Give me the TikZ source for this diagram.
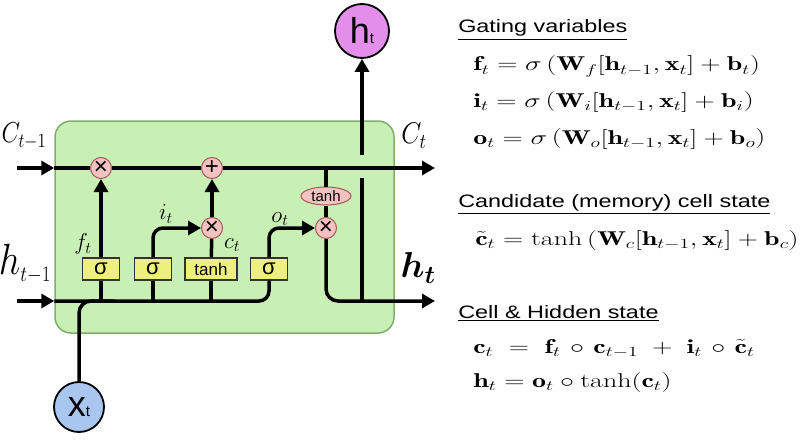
\documentclass[tikz,border=0pt]{standalone}
\usepackage{fix-cm}
\usepackage{fontspec,amsmath,bm}
\usetikzlibrary{arrows.meta,positioning,shapes.geometric}
\newfontfamily\labelfont{Liberation Sans}
\definecolor{cellgreen}{HTML}{C9F0B4}
\definecolor{celledge}{HTML}{7FAE6E}
\definecolor{gateyellow}{HTML}{EEF07E}
\definecolor{oppink}{HTML}{F6C1C1}
\definecolor{opedge}{HTML}{A05A5A}
\definecolor{outviolet}{HTML}{E38EEA}
\definecolor{inblue}{HTML}{A8C6EE}
\tikzset{
  flow/.style={line width=3.5pt},
  cellbox/.style={draw=celledge,fill=cellgreen,line width=1.5pt,rounded corners=16pt,inner sep=0pt},
  gate/.style={draw=black!80,line width=1.2pt,fill=gateyellow,minimum height=22pt,inner sep=0pt},
  op/.style={circle,draw=opedge,fill=oppink,line width=1pt,minimum size=21pt,inner sep=0pt,font=\labelfont\fontsize{24}{24}\selectfont},
  port/.style={circle,draw=black,line width=1.8pt,inner sep=0pt,font=\labelfont\fontsize{36}{36}\selectfont},
  heading/.style={anchor=base west,inner sep=0pt,xscale=1.3,font=\labelfont\fontsize{18}{20}\selectfont},
  eqn/.style={anchor=base west,inner sep=0pt,xscale=1.4,font=\fontsize{20}{22}\selectfont},
  varlab/.style={inner sep=0pt,font=\fontsize{23}{23}\selectfont},
}
\newcommand{\subt}{{\fontsize{15}{15}\selectfont t}}
\begin{document}
\begin{tikzpicture}[x=1pt,y=-1pt,>={Triangle[length=13pt,width=14pt]}]
\useasboundingbox (0,0) rectangle (812,444);
% the cell
\node[cellbox,minimum width=339pt,minimum height=212pt] (cell) at (224.5,227) {};
\coordinate (cin) at (17,168);
\coordinate (cout) at (435,168);
\coordinate (hin) at (17,301);
\coordinate (hout) at (435,301);
\coordinate (tap) at (326,168);
\coordinate (xjoin) at (115,301);
\coordinate (hup) at (362,301);
\coordinate (gapbot) at (362,178);
\coordinate (gaptop) at (362,155);

\node[op] (fx) at (101,168) {×};
\node[op] (add) at (212,168) {+};
\node[op] (ix) at (212,228) {×};
\node[op] (ox) at (326,228) {×};
\node[ellipse,draw=opedge,fill=oppink,line width=1pt,minimum width=50pt,minimum height=18pt,inner sep=0pt,
  font=\labelfont\fontsize{15}{15}\selectfont] (th) at (326,196) {tanh};
\foreach \n/\x/\w/\s/\t in {fg/101/37/22/σ,ig/153/37/22/σ,cg/211/52/17/tanh,og/269/37/22/σ}
  \node[gate,minimum width=\w pt,font=\labelfont\fontsize{\s}{\s}\selectfont] (\n) at (\x,269) {\t};
\node[port,fill=outviolet,minimum size=54pt] (ht) at (362,31) {h\subt};
\node[port,fill=inblue,minimum size=50pt] (xt) at (79,407) {x\subt};

% cell state
\draw[flow,->] (cin) -- (cell.west|-cin);
\draw[flow] (cell.west|-cin) -- (fx);
\draw[flow] (fx) -- (add);
\draw[flow,->] (add) -- (cout);
\draw[flow] (tap) -- (th);
\draw[flow] (th) -- (ox);

% hidden state and input
\draw[flow,->] (hin) -- (cell.west|-hin);
\draw[flow,rounded corners=10pt] (cell.west|-hin) -- (og.south|-hin) -- (og.south);
\draw[flow,rounded corners=12pt] (xt) |- (xjoin);
\foreach \n in {fg,ig,cg}
  \draw[flow] (\n.south|-hin) -- (\n);

% gates
\draw[flow,->] (fg) -- (fx);
\draw[flow,->,rounded corners=10pt] (ig) |- (ix);
\draw[flow] (cg) -- (ix);
\draw[flow,->] (ix) -- (add);
\draw[flow,->,rounded corners=10pt] (og) |- (ox);

% output
\draw[flow,->,rounded corners=12pt] (ox) |- (hout);
\draw[flow] (hup) -- (gapbot);
\draw[flow,->] (gaptop) -- (ht);

% labels
\node[yscale=1.2,font=\fontsize{24}{24}\selectfont] (clab) at (24,136) {$C_{t-1}$};
\node[yscale=1.15,font=\fontsize{26}{26}\selectfont] (clabout) at (414,136) {$C_t$};
\node[yscale=1.15,font=\fontsize{38}{38}\selectfont] (hlab) at (25,264) {$h_{\scriptscriptstyle t-1}$};
\node[font=\fontsize{36}{36}\selectfont] (hlabout) at (418,268) {$\boldsymbol{h_t}$};
\node[varlab] (flab) at (83,244) {$f_t$};
\node[varlab] (ilab) at (166,214) {$i_t$};
\node[varlab] (clab2) at (232,245) {$c_t$};
\node[varlab] (olab) at (280,219) {$o_t$};

% equations
\node[heading] (gatehead) at (458,33) {\underline{Gating variables}};
\node[eqn] (feq) at (473,71) {$\mathbf{f}_t = \sigma\left(\mathbf{W}_f[\mathbf{h}_{t-1},\mathbf{x}_t] + \mathbf{b}_t\right)$};
\node[eqn] (ieq) at (473,107) {$\mathbf{i}_t = \sigma\left(\mathbf{W}_i[\mathbf{h}_{t-1},\mathbf{x}_t] + \mathbf{b}_i\right)$};
\node[eqn] (oeq) at (473,144) {$\mathbf{o}_t = \sigma\left(\mathbf{W}_o[\mathbf{h}_{t-1},\mathbf{x}_t] + \mathbf{b}_o\right)$};
\node[heading] (candhead) at (458,207) {\underline{Candidate (memory) cell state}};
\node[eqn] (ceq) at (475,245) {$\tilde{\mathbf{c}}_t = \tanh\left(\mathbf{W}_c[\mathbf{h}_{t-1},\mathbf{x}_t] + \mathbf{b}_c\right)$};
\node[heading] (statehead) at (458,318) {\underline{Cell \& Hidden state}};
\node[eqn] (cteq) at (473,353) {$\mathbf{c}_t \;=\; \mathbf{f}_t \mkern2mu\circ\mkern2mu \mathbf{c}_{t-1} \;+\; \mathbf{i}_t \mkern2mu\circ\mkern2mu \tilde{\mathbf{c}}_t$};
\node[eqn] (hteq) at (473,387) {$\mathbf{h}_t = \mathbf{o}_t \circ \tanh(\mathbf{c}_t)$};
\end{tikzpicture}
\end{document}
